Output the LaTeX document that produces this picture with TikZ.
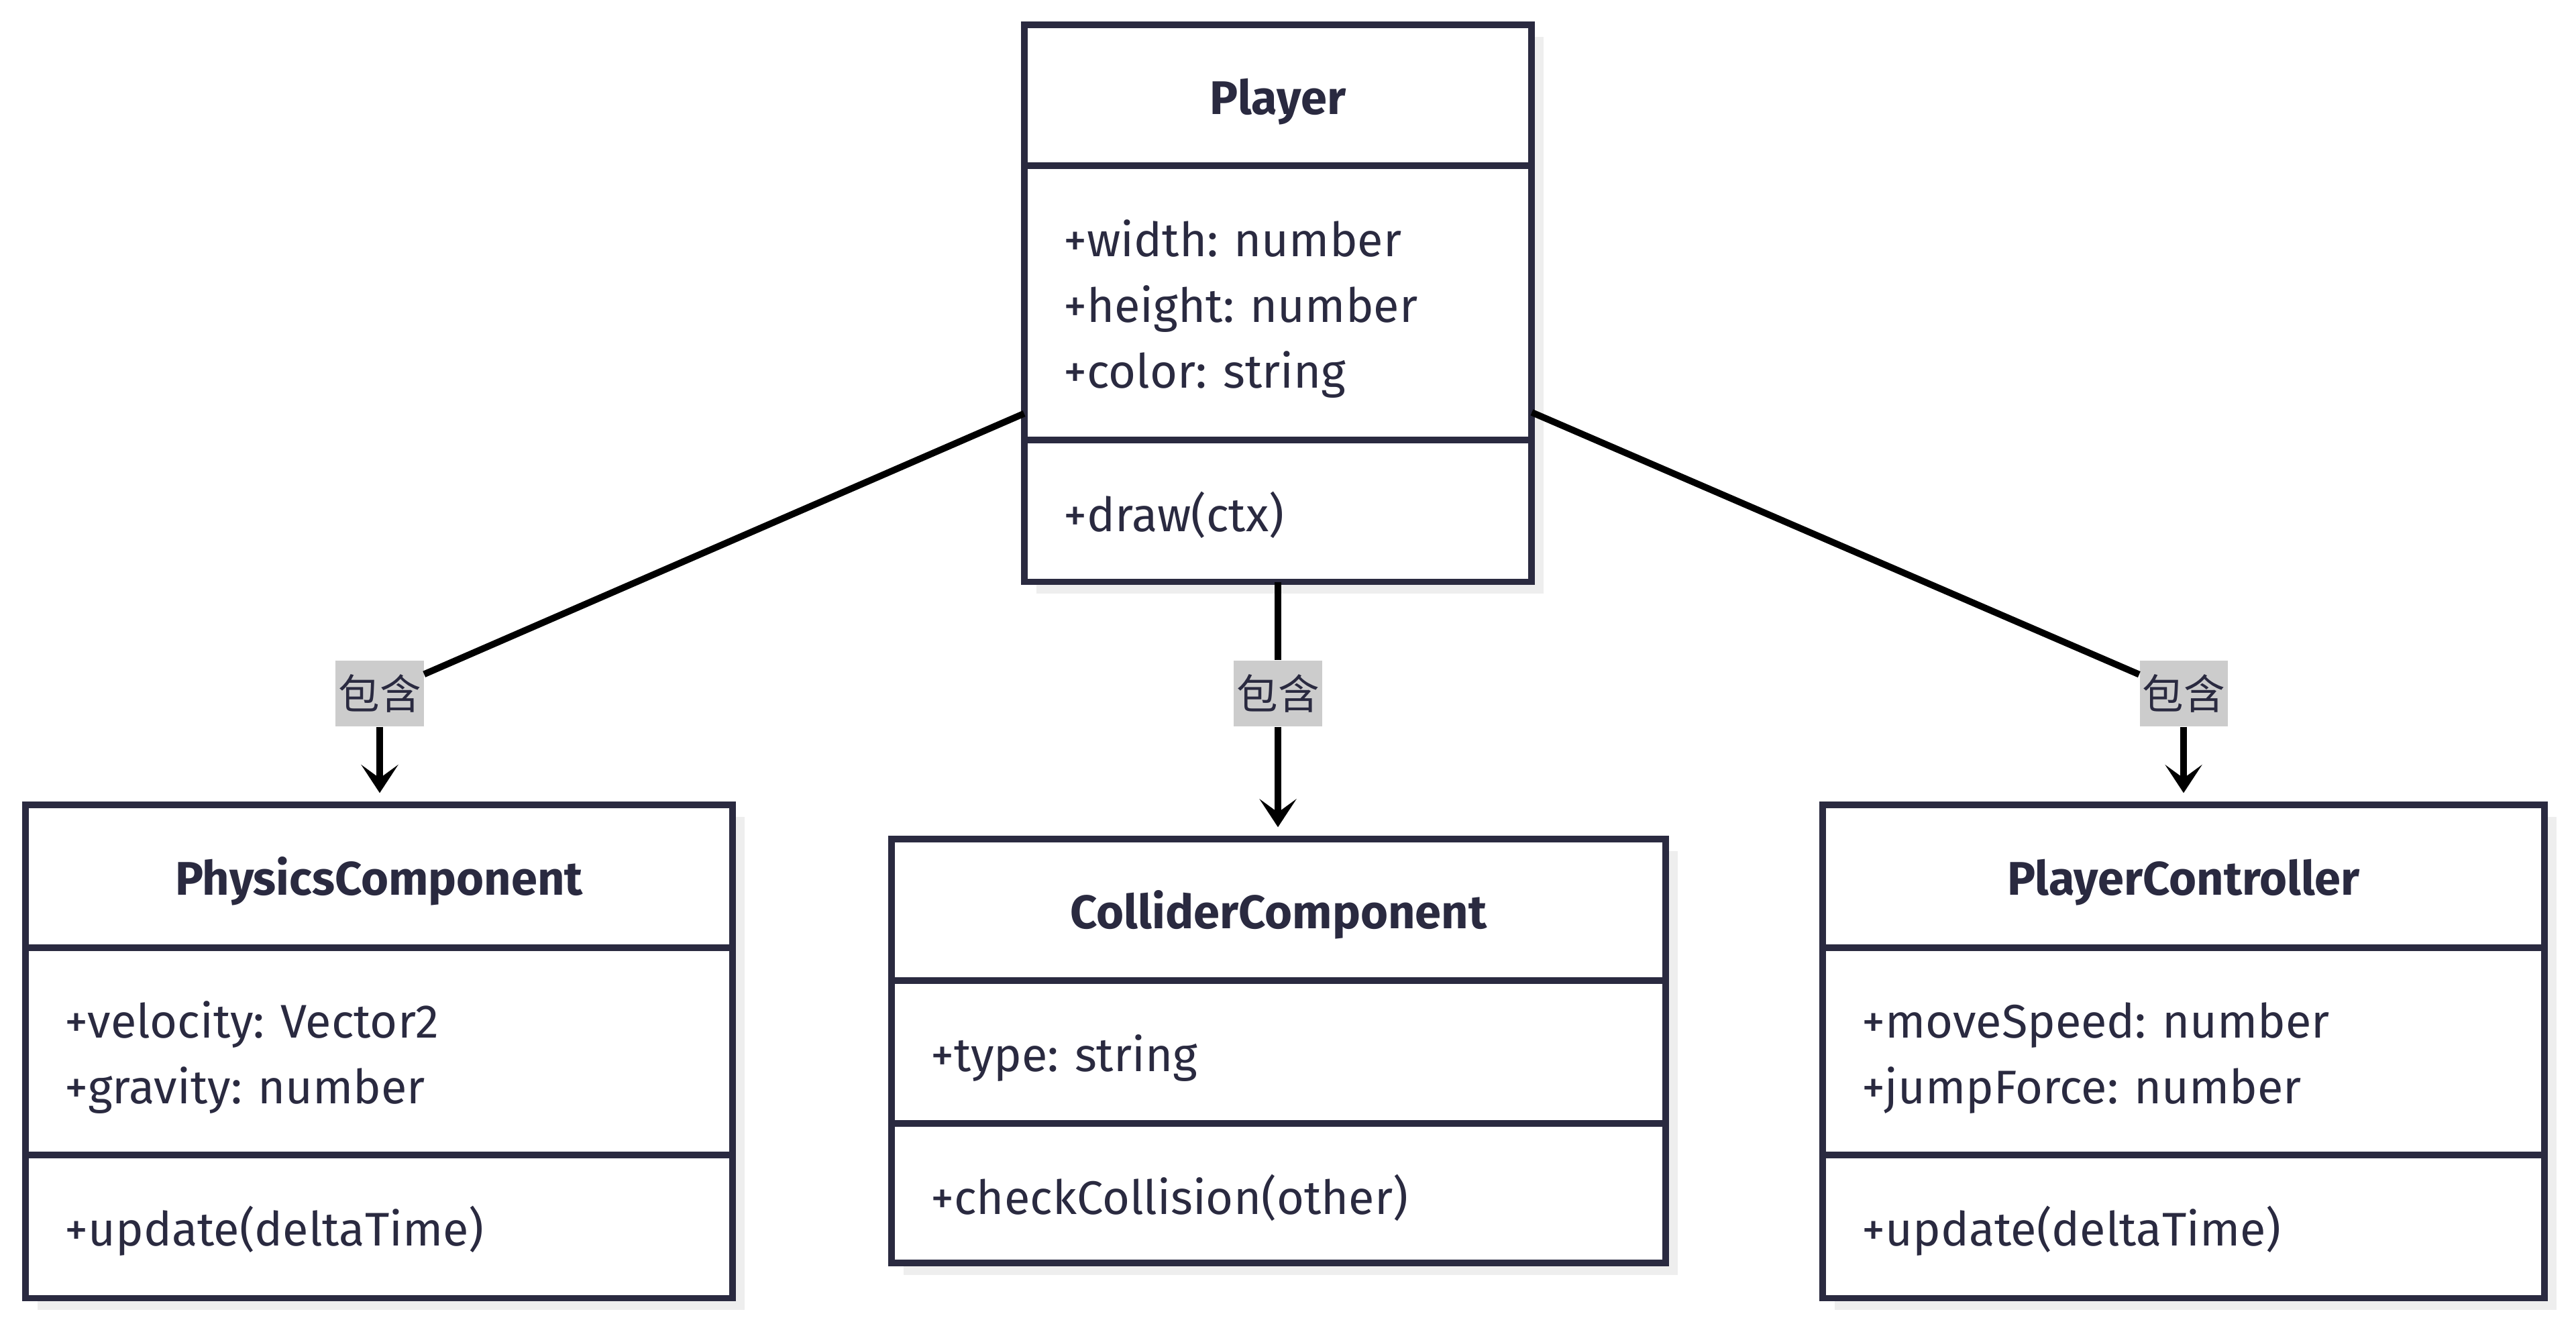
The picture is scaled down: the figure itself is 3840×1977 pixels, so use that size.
\documentclass[tikz,border=0pt]{standalone}
\usepackage{fontspec}
\setmainfont{Fira Sans}
\newfontfamily\cjkfont{Noto Sans CJK SC}
\frenchspacing
\usetikzlibrary{arrows.meta,positioning,fit,shadows}
\definecolor{umlink}    {RGB}{42, 42, 64}
\definecolor{lblgray}   {RGB}{204,204,204}
\definecolor{shadowgray}{RGB}{238,238,238}
\tikzset{
  cls/.style={draw=umlink,line width=2.8pt,fill=white,outer sep=0pt,
              inner xsep=0.58cm,inner ysep=0pt,text=umlink,
              font=\fontsize{20}{27.9}\selectfont,
              execute at begin node={\rule{0pt}{0.72cm}},
              drop shadow={shadow xshift=0.18cm,shadow yshift=-0.18cm,
              fill=shadowgray,opacity=1}},
  clstitle/.style={cls,font=\fontsize{20}{27.9}\selectfont\bfseries,align=center},
  clsbody/.style={cls,align=left},
  conn/.style={line width=2.8pt,color=black},
  arr/.style={conn,-{Stealth[length=0.42cm,width=0.55cm,inset=0.2cm]},
              shorten >=0.17cm},
  lbl/.style={fill=lblgray,text=umlink,
              font=\cjkfont\fontsize{17.5}{20}\selectfont,
              minimum width=1.31cm,minimum height=0.98cm,inner sep=0pt},
}

\begin{document}
\begin{tikzpicture}[x=0.01cm,y=-0.01cm]
  \useasboundingbox (0,0) rectangle (3840,1977);
  % Player
  \node[clstitle,text width=6.39cm,minimum height=2.10cm,anchor=north] (ptitle) at (1905,37) {Player};
  \node[clsbody,text width=6.39cm,minimum height=4.09cm,below=0pt of ptitle] (pattr)
    {+width: number\\+height: number\\+color: string};
  \node[clsbody,text width=6.39cm,minimum height=2.11cm,below=0pt of pattr] (pmeth) {+draw(ctx)};
  \node[fit=(ptitle)(pmeth),inner sep=0pt] (player) {};

  % PhysicsComponent
  \node[clstitle,text width=9.37cm,minimum height=2.13cm,anchor=north] (phtitle) at (565,1200) {PhysicsComponent};
  \node[clsbody,text width=9.37cm,minimum height=3.09cm,below=0pt of phtitle] (phattr)
    {+velocity: Vector2\\+gravity: number};
  \node[clsbody,text width=9.37cm,minimum height=2.13cm,below=0pt of phattr] (phmeth) {+update(deltaTime)};
  \node[fit=(phtitle)(phmeth),inner sep=0pt] (physics) {};

  % ColliderComponent
  \node[clstitle,text width=10.37cm,minimum height=2.11cm,anchor=north] (cotitle) at (1906,1251) {ColliderComponent};
  \node[clsbody,text width=10.37cm,minimum height=2.13cm,below=0pt of cotitle] (coattr) {+type: string};
  \node[clsbody,text width=10.37cm,minimum height=2.08cm,below=0pt of coattr] (cometh) {+checkCollision(other)};
  \node[fit=(cotitle)(cometh),inner sep=0pt] (collider) {};

  % PlayerController
  \node[clstitle,text width=9.59cm,minimum height=2.13cm,anchor=north] (pctitle) at (3255,1200) {PlayerController};
  \node[clsbody,text width=9.59cm,minimum height=3.09cm,below=0pt of pctitle] (pcattr)
    {+moveSpeed: number\\+jumpForce: number};
  \node[clsbody,text width=9.59cm,minimum height=2.13cm,below=0pt of pcattr] (pcmeth) {+update(deltaTime)};
  \node[fit=(pctitle)(pcmeth),inner sep=0pt] (controller) {};

  % labels
  \node[lbl] (l1) at (566,1034)  {包含};
  \node[lbl] (l2) at (1905,1034) {包含};
  \node[lbl] (l3) at (3255,1034) {包含};

  \draw[conn](player) -- (l1);
  \draw[arr](l1) -- (l1 |- physics.north);
  \draw[conn](player) -- (l2);
  \draw[arr](l2) -- (l2 |- collider.north);
  \draw[conn](player) -- (l3);
  \draw[arr](l3) -- (l3 |- controller.north);
\end{tikzpicture}
\end{document}
